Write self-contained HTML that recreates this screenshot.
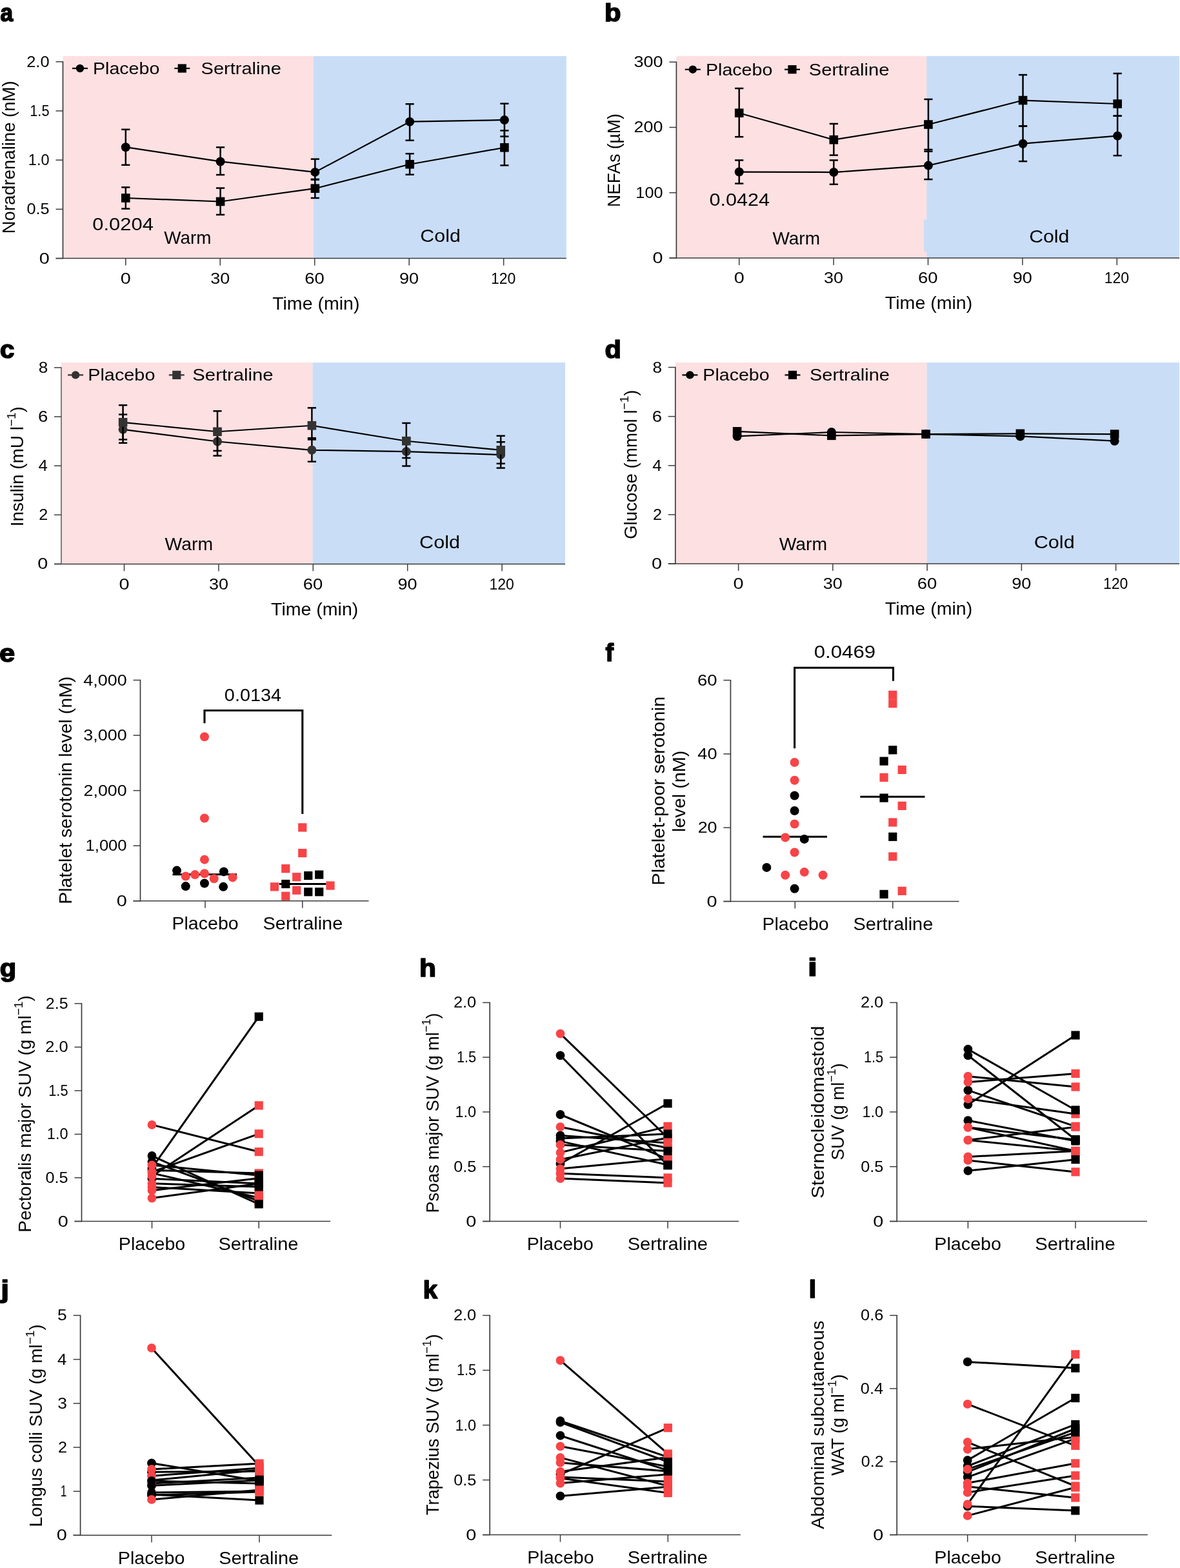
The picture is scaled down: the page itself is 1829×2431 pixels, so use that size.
<!DOCTYPE html>
<html><head><meta charset="utf-8"><title>Figure</title>
<style>
html,body{margin:0;padding:0;background:#fff;}
svg{display:block;}
text{font-family:'Liberation Sans', Arial, sans-serif;fill:#050505;}
</style></head>
<body>
<svg width="1829" height="2431" viewBox="0 0 1829 2431">
<rect width="1829" height="2431" fill="#fff"/>
<text x="0.42" y="32.55" font-size="38.5" textLength="19.61" lengthAdjust="spacingAndGlyphs" font-weight="bold" style="fill:#000" stroke="#000" stroke-width="1.7" stroke-linejoin="round">a</text>
<rect x="97.5" y="86.9" width="388.2" height="313.7" fill="#fde0e2"/>
<rect x="485.7" y="86.9" width="392.1" height="313.7" fill="#c9ddf7"/>
<line x1="86.5" y1="400.6" x2="877.8" y2="400.6" stroke="#3c3c3c" stroke-width="1.5"/>
<line x1="97.5" y1="95" x2="97.5" y2="401.3" stroke="#3c3c3c" stroke-width="1.7"/>
<line x1="86.5" y1="400.6" x2="97.5" y2="400.6" stroke="#3c3c3c" stroke-width="1.5"/>
<text x="60.67" y="408.6" font-size="24" textLength="16.06" lengthAdjust="spacingAndGlyphs">0</text>
<line x1="86.5" y1="324.38" x2="97.5" y2="324.38" stroke="#3c3c3c" stroke-width="1.5"/>
<text x="41.51" y="332.38" font-size="24" textLength="35.15" lengthAdjust="spacingAndGlyphs">0.5</text>
<line x1="86.5" y1="248.15" x2="97.5" y2="248.15" stroke="#3c3c3c" stroke-width="1.5"/>
<text x="43.81" y="256.15" font-size="24" textLength="32.71" lengthAdjust="spacingAndGlyphs">1.0</text>
<line x1="86.5" y1="171.93" x2="97.5" y2="171.93" stroke="#3c3c3c" stroke-width="1.5"/>
<text x="46.24" y="179.93" font-size="24" textLength="30.27" lengthAdjust="spacingAndGlyphs">1.5</text>
<line x1="86.5" y1="95.7" x2="97.5" y2="95.7" stroke="#3c3c3c" stroke-width="1.5"/>
<text x="41.22" y="103.7" font-size="24" textLength="35.37" lengthAdjust="spacingAndGlyphs">2.0</text>
<line x1="194.8" y1="400.6" x2="194.8" y2="411.6" stroke="#3c3c3c" stroke-width="1.5"/>
<text x="186.77" y="439.9" font-size="24" textLength="16.06" lengthAdjust="spacingAndGlyphs">0</text>
<line x1="341.26" y1="400.6" x2="341.26" y2="411.6" stroke="#3c3c3c" stroke-width="1.5"/>
<text x="326.28" y="439.9" font-size="24" textLength="29.98" lengthAdjust="spacingAndGlyphs">30</text>
<line x1="487.72" y1="400.6" x2="487.72" y2="411.6" stroke="#3c3c3c" stroke-width="1.5"/>
<text x="472.27" y="439.9" font-size="24" textLength="30.57" lengthAdjust="spacingAndGlyphs">60</text>
<line x1="634.18" y1="400.6" x2="634.18" y2="411.6" stroke="#3c3c3c" stroke-width="1.5"/>
<text x="619.01" y="439.9" font-size="24" textLength="30.13" lengthAdjust="spacingAndGlyphs">90</text>
<line x1="780.64" y1="400.6" x2="780.64" y2="411.6" stroke="#3c3c3c" stroke-width="1.5"/>
<text x="760.98" y="439.9" font-size="24" textLength="38.46" lengthAdjust="spacingAndGlyphs">120</text>
<text x="422.16" y="479.9" font-size="27.3" textLength="135.29" lengthAdjust="spacingAndGlyphs">Time (min)</text>
<text x="254.18" y="378.3" font-size="28" textLength="73.23" lengthAdjust="spacingAndGlyphs">Warm</text>
<text x="651.36" y="375" font-size="28" textLength="62.4" lengthAdjust="spacingAndGlyphs">Cold</text>
<path d="M194.8 228.18 L341.58 250.44 L488.35 266.9 L635.12 188.69 L781.9 185.95" fill="none" stroke="#000" stroke-width="2.2" stroke-linejoin="round"/>
<line x1="194.8" y1="200.74" x2="194.8" y2="255.77" stroke="#000" stroke-width="2.5"/>
<line x1="188.2" y1="200.74" x2="201.4" y2="200.74" stroke="#000" stroke-width="2.5"/>
<line x1="188.2" y1="255.77" x2="201.4" y2="255.77" stroke="#000" stroke-width="2.5"/>
<line x1="341.58" y1="228.33" x2="341.58" y2="271.02" stroke="#000" stroke-width="2.5"/>
<line x1="334.98" y1="228.33" x2="348.18" y2="228.33" stroke="#000" stroke-width="2.5"/>
<line x1="334.98" y1="271.02" x2="348.18" y2="271.02" stroke="#000" stroke-width="2.5"/>
<line x1="488.35" y1="246.63" x2="488.35" y2="278.64" stroke="#000" stroke-width="2.5"/>
<line x1="481.75" y1="246.63" x2="494.95" y2="246.63" stroke="#000" stroke-width="2.5"/>
<line x1="481.75" y1="278.64" x2="494.95" y2="278.64" stroke="#000" stroke-width="2.5"/>
<line x1="635.12" y1="161.25" x2="635.12" y2="217.66" stroke="#000" stroke-width="2.5"/>
<line x1="628.52" y1="161.25" x2="641.73" y2="161.25" stroke="#000" stroke-width="2.5"/>
<line x1="628.52" y1="217.66" x2="641.73" y2="217.66" stroke="#000" stroke-width="2.5"/>
<line x1="781.9" y1="160.64" x2="781.9" y2="211.56" stroke="#000" stroke-width="2.5"/>
<line x1="775.3" y1="160.64" x2="788.5" y2="160.64" stroke="#000" stroke-width="2.5"/>
<line x1="775.3" y1="211.56" x2="788.5" y2="211.56" stroke="#000" stroke-width="2.5"/>
<circle cx="194.8" cy="228.18" r="7" fill="#000"/>
<circle cx="341.58" cy="250.44" r="7" fill="#000"/>
<circle cx="488.35" cy="266.9" r="7" fill="#000"/>
<circle cx="635.12" cy="188.69" r="7" fill="#000"/>
<circle cx="781.9" cy="185.95" r="7" fill="#000"/>
<path d="M194.8 307 L341.58 312.48 L488.35 292.21 L635.12 254.71 L781.9 228.79" fill="none" stroke="#000" stroke-width="2.2" stroke-linejoin="round"/>
<line x1="194.8" y1="290.38" x2="194.8" y2="323.61" stroke="#000" stroke-width="2.5"/>
<line x1="188.2" y1="290.38" x2="201.4" y2="290.38" stroke="#000" stroke-width="2.5"/>
<line x1="188.2" y1="323.61" x2="201.4" y2="323.61" stroke="#000" stroke-width="2.5"/>
<line x1="341.58" y1="291.6" x2="341.58" y2="332.91" stroke="#000" stroke-width="2.5"/>
<line x1="334.98" y1="291.6" x2="348.18" y2="291.6" stroke="#000" stroke-width="2.5"/>
<line x1="334.98" y1="332.91" x2="348.18" y2="332.91" stroke="#000" stroke-width="2.5"/>
<line x1="488.35" y1="277.88" x2="488.35" y2="307" stroke="#000" stroke-width="2.5"/>
<line x1="481.75" y1="277.88" x2="494.95" y2="277.88" stroke="#000" stroke-width="2.5"/>
<line x1="481.75" y1="307" x2="494.95" y2="307" stroke="#000" stroke-width="2.5"/>
<line x1="635.12" y1="238.24" x2="635.12" y2="270.71" stroke="#000" stroke-width="2.5"/>
<line x1="628.52" y1="238.24" x2="641.73" y2="238.24" stroke="#000" stroke-width="2.5"/>
<line x1="628.52" y1="270.71" x2="641.73" y2="270.71" stroke="#000" stroke-width="2.5"/>
<line x1="781.9" y1="202.42" x2="781.9" y2="256.38" stroke="#000" stroke-width="2.5"/>
<line x1="775.3" y1="202.42" x2="788.5" y2="202.42" stroke="#000" stroke-width="2.5"/>
<line x1="775.3" y1="256.38" x2="788.5" y2="256.38" stroke="#000" stroke-width="2.5"/>
<rect x="188" y="300.2" width="13.6" height="13.6" fill="#000"/>
<rect x="334.78" y="305.68" width="13.6" height="13.6" fill="#000"/>
<rect x="481.55" y="285.41" width="13.6" height="13.6" fill="#000"/>
<rect x="628.33" y="247.91" width="13.6" height="13.6" fill="#000"/>
<rect x="775.1" y="221.99" width="13.6" height="13.6" fill="#000"/>
<line x1="112" y1="106" x2="136" y2="106" stroke="#000" stroke-width="2.2"/>
<circle cx="124" cy="106" r="6.2" fill="#000"/>
<text x="143.95" y="114.9" font-size="26.6" textLength="103.45" lengthAdjust="spacingAndGlyphs">Placebo</text>
<line x1="270.3" y1="106" x2="294.3" y2="106" stroke="#000" stroke-width="2.2"/>
<rect x="275.7" y="99.4" width="13.2" height="13.2" fill="#000"/>
<text x="311.58" y="114.9" font-size="26.6" textLength="124.21" lengthAdjust="spacingAndGlyphs">Sertraline</text>
<text x="143.29" y="356.8" font-size="28" textLength="94.61" lengthAdjust="spacingAndGlyphs">0.0204</text>
<text transform="translate(23.3 362.26) rotate(-90)" font-size="28" textLength="236.86" lengthAdjust="spacingAndGlyphs">Noradrenaline (nM)</text>
<text x="937.1" y="32.65" font-size="38.5" textLength="25.46" lengthAdjust="spacingAndGlyphs" font-weight="bold" style="fill:#000" stroke="#000" stroke-width="1.7" stroke-linejoin="round">b</text>
<rect x="1048.4" y="86.8" width="387.8" height="313.2" fill="#fde0e2"/>
<rect x="1436.2" y="86.8" width="391.8" height="313.2" fill="#c9ddf7"/>
<rect x="1431.9" y="340.5" width="5" height="49.3" fill="#c9ddf7"/>
<line x1="1037.4" y1="400" x2="1828" y2="400" stroke="#3c3c3c" stroke-width="1.5"/>
<line x1="1048.4" y1="95.5" x2="1048.4" y2="400.7" stroke="#3c3c3c" stroke-width="1.7"/>
<line x1="1037.4" y1="400" x2="1048.4" y2="400" stroke="#3c3c3c" stroke-width="1.5"/>
<text x="1011.57" y="408" font-size="24" textLength="16.06" lengthAdjust="spacingAndGlyphs">0</text>
<line x1="1037.4" y1="298.73" x2="1048.4" y2="298.73" stroke="#3c3c3c" stroke-width="1.5"/>
<text x="985.38" y="306.73" font-size="24" textLength="42.11" lengthAdjust="spacingAndGlyphs">100</text>
<line x1="1037.4" y1="197.47" x2="1048.4" y2="197.47" stroke="#3c3c3c" stroke-width="1.5"/>
<text x="982.54" y="205.47" font-size="24" textLength="45.01" lengthAdjust="spacingAndGlyphs">200</text>
<line x1="1037.4" y1="96.2" x2="1048.4" y2="96.2" stroke="#3c3c3c" stroke-width="1.5"/>
<text x="982.47" y="104.2" font-size="24" textLength="45.08" lengthAdjust="spacingAndGlyphs">300</text>
<line x1="1145.7" y1="400" x2="1145.7" y2="411" stroke="#3c3c3c" stroke-width="1.5"/>
<text x="1137.67" y="439.3" font-size="24" textLength="16.06" lengthAdjust="spacingAndGlyphs">0</text>
<line x1="1292.1" y1="400" x2="1292.1" y2="411" stroke="#3c3c3c" stroke-width="1.5"/>
<text x="1277.12" y="439.3" font-size="24" textLength="29.98" lengthAdjust="spacingAndGlyphs">30</text>
<line x1="1438.5" y1="400" x2="1438.5" y2="411" stroke="#3c3c3c" stroke-width="1.5"/>
<text x="1423.05" y="439.3" font-size="24" textLength="30.57" lengthAdjust="spacingAndGlyphs">60</text>
<line x1="1584.9" y1="400" x2="1584.9" y2="411" stroke="#3c3c3c" stroke-width="1.5"/>
<text x="1569.73" y="439.3" font-size="24" textLength="30.13" lengthAdjust="spacingAndGlyphs">90</text>
<line x1="1731.3" y1="400" x2="1731.3" y2="411" stroke="#3c3c3c" stroke-width="1.5"/>
<text x="1711.64" y="439.3" font-size="24" textLength="38.46" lengthAdjust="spacingAndGlyphs">120</text>
<text x="1371.86" y="479.3" font-size="27.3" textLength="135.39" lengthAdjust="spacingAndGlyphs">Time (min)</text>
<text x="1197.38" y="378.7" font-size="28" textLength="73.64" lengthAdjust="spacingAndGlyphs">Warm</text>
<text x="1595.16" y="375.8" font-size="28" textLength="62.29" lengthAdjust="spacingAndGlyphs">Cold</text>
<path d="M1145.7 266.53 L1292.31 267.04 L1438.92 256.61 L1585.53 222.68 L1732.14 210.63" fill="none" stroke="#000" stroke-width="2.2" stroke-linejoin="round"/>
<line x1="1145.7" y1="248.4" x2="1145.7" y2="284.56" stroke="#000" stroke-width="2.5"/>
<line x1="1139.1" y1="248.4" x2="1152.3" y2="248.4" stroke="#000" stroke-width="2.5"/>
<line x1="1139.1" y1="284.56" x2="1152.3" y2="284.56" stroke="#000" stroke-width="2.5"/>
<line x1="1292.31" y1="248.4" x2="1292.31" y2="285.77" stroke="#000" stroke-width="2.5"/>
<line x1="1285.71" y1="248.4" x2="1298.91" y2="248.4" stroke="#000" stroke-width="2.5"/>
<line x1="1285.71" y1="285.77" x2="1298.91" y2="285.77" stroke="#000" stroke-width="2.5"/>
<line x1="1438.92" y1="231.9" x2="1438.92" y2="278.07" stroke="#000" stroke-width="2.5"/>
<line x1="1432.32" y1="231.9" x2="1445.52" y2="231.9" stroke="#000" stroke-width="2.5"/>
<line x1="1432.32" y1="278.07" x2="1445.52" y2="278.07" stroke="#000" stroke-width="2.5"/>
<line x1="1585.53" y1="195.64" x2="1585.53" y2="250.12" stroke="#000" stroke-width="2.5"/>
<line x1="1578.93" y1="195.64" x2="1592.13" y2="195.64" stroke="#000" stroke-width="2.5"/>
<line x1="1578.93" y1="250.12" x2="1592.13" y2="250.12" stroke="#000" stroke-width="2.5"/>
<line x1="1732.14" y1="179.74" x2="1732.14" y2="241.21" stroke="#000" stroke-width="2.5"/>
<line x1="1725.54" y1="179.74" x2="1738.74" y2="179.74" stroke="#000" stroke-width="2.5"/>
<line x1="1725.54" y1="241.21" x2="1738.74" y2="241.21" stroke="#000" stroke-width="2.5"/>
<circle cx="1145.7" cy="266.53" r="7" fill="#000"/>
<circle cx="1292.31" cy="267.04" r="7" fill="#000"/>
<circle cx="1438.92" cy="256.61" r="7" fill="#000"/>
<circle cx="1585.53" cy="222.68" r="7" fill="#000"/>
<circle cx="1732.14" cy="210.63" r="7" fill="#000"/>
<path d="M1145.7 175.19 L1292.31 216.71 L1438.92 193.01 L1585.53 155.54 L1732.14 161.01" fill="none" stroke="#000" stroke-width="2.2" stroke-linejoin="round"/>
<line x1="1145.7" y1="137.01" x2="1145.7" y2="212.15" stroke="#000" stroke-width="2.5"/>
<line x1="1139.1" y1="137.01" x2="1152.3" y2="137.01" stroke="#000" stroke-width="2.5"/>
<line x1="1139.1" y1="212.15" x2="1152.3" y2="212.15" stroke="#000" stroke-width="2.5"/>
<line x1="1292.31" y1="191.9" x2="1292.31" y2="240.61" stroke="#000" stroke-width="2.5"/>
<line x1="1285.71" y1="191.9" x2="1298.91" y2="191.9" stroke="#000" stroke-width="2.5"/>
<line x1="1285.71" y1="240.61" x2="1298.91" y2="240.61" stroke="#000" stroke-width="2.5"/>
<line x1="1438.92" y1="153.92" x2="1438.92" y2="234.73" stroke="#000" stroke-width="2.5"/>
<line x1="1432.32" y1="153.92" x2="1445.52" y2="153.92" stroke="#000" stroke-width="2.5"/>
<line x1="1432.32" y1="234.73" x2="1445.52" y2="234.73" stroke="#000" stroke-width="2.5"/>
<line x1="1585.53" y1="116.05" x2="1585.53" y2="195.44" stroke="#000" stroke-width="2.5"/>
<line x1="1578.93" y1="116.05" x2="1592.13" y2="116.05" stroke="#000" stroke-width="2.5"/>
<line x1="1578.93" y1="195.44" x2="1592.13" y2="195.44" stroke="#000" stroke-width="2.5"/>
<line x1="1732.14" y1="113.92" x2="1732.14" y2="179.74" stroke="#000" stroke-width="2.5"/>
<line x1="1725.54" y1="113.92" x2="1738.74" y2="113.92" stroke="#000" stroke-width="2.5"/>
<line x1="1725.54" y1="179.74" x2="1738.74" y2="179.74" stroke="#000" stroke-width="2.5"/>
<rect x="1138.9" y="168.39" width="13.6" height="13.6" fill="#000"/>
<rect x="1285.51" y="209.91" width="13.6" height="13.6" fill="#000"/>
<rect x="1432.12" y="186.21" width="13.6" height="13.6" fill="#000"/>
<rect x="1578.73" y="148.74" width="13.6" height="13.6" fill="#000"/>
<rect x="1725.34" y="154.21" width="13.6" height="13.6" fill="#000"/>
<line x1="1061.8" y1="107.7" x2="1085.8" y2="107.7" stroke="#000" stroke-width="2.2"/>
<circle cx="1073.8" cy="107.7" r="6.2" fill="#000"/>
<text x="1093.95" y="116.6" font-size="26.6" textLength="103.45" lengthAdjust="spacingAndGlyphs">Placebo</text>
<line x1="1216" y1="107.7" x2="1240" y2="107.7" stroke="#000" stroke-width="2.2"/>
<rect x="1221.4" y="101.1" width="13.2" height="13.2" fill="#000"/>
<text x="1253.78" y="116.6" font-size="26.6" textLength="124.62" lengthAdjust="spacingAndGlyphs">Sertraline</text>
<text x="1099.61" y="319.3" font-size="28" textLength="93.39" lengthAdjust="spacingAndGlyphs">0.0424</text>
<text transform="translate(960.9 320.95) rotate(-90)" font-size="28" textLength="144.68" lengthAdjust="spacingAndGlyphs">NEFAs (µM)</text>
<text x="-0.02" y="554.85" font-size="38.5" textLength="22.35" lengthAdjust="spacingAndGlyphs" font-weight="bold" style="fill:#000" stroke="#000" stroke-width="1.7" stroke-linejoin="round">c</text>
<rect x="95" y="562.1" width="389.5" height="312.3" fill="#fde0e2"/>
<rect x="484.5" y="562.1" width="391.5" height="312.3" fill="#c9ddf7"/>
<line x1="84" y1="874.4" x2="876" y2="874.4" stroke="#3c3c3c" stroke-width="1.5"/>
<line x1="95" y1="569.22" x2="95" y2="875.1" stroke="#6e6868" stroke-width="1.7"/>
<line x1="84" y1="874.4" x2="95" y2="874.4" stroke="#3c3c3c" stroke-width="1.5"/>
<text x="58.17" y="882.4" font-size="24" textLength="16.06" lengthAdjust="spacingAndGlyphs">0</text>
<line x1="84" y1="798.28" x2="95" y2="798.28" stroke="#3c3c3c" stroke-width="1.5"/>
<text x="60.33" y="806.28" font-size="24" textLength="14.04" lengthAdjust="spacingAndGlyphs">2</text>
<line x1="84" y1="722.16" x2="95" y2="722.16" stroke="#3c3c3c" stroke-width="1.5"/>
<text x="59.51" y="730.16" font-size="24" textLength="14.35" lengthAdjust="spacingAndGlyphs">4</text>
<line x1="84" y1="646.04" x2="95" y2="646.04" stroke="#3c3c3c" stroke-width="1.5"/>
<text x="59" y="654.04" font-size="24" textLength="15.31" lengthAdjust="spacingAndGlyphs">6</text>
<line x1="84" y1="569.92" x2="95" y2="569.92" stroke="#3c3c3c" stroke-width="1.5"/>
<text x="59.66" y="577.92" font-size="24" textLength="14.58" lengthAdjust="spacingAndGlyphs">8</text>
<line x1="192.5" y1="874.4" x2="192.5" y2="885.4" stroke="#3c3c3c" stroke-width="1.5"/>
<text x="184.47" y="913.7" font-size="24" textLength="16.06" lengthAdjust="spacingAndGlyphs">0</text>
<line x1="338.9" y1="874.4" x2="338.9" y2="885.4" stroke="#3c3c3c" stroke-width="1.5"/>
<text x="323.92" y="913.7" font-size="24" textLength="29.98" lengthAdjust="spacingAndGlyphs">30</text>
<line x1="485.3" y1="874.4" x2="485.3" y2="885.4" stroke="#3c3c3c" stroke-width="1.5"/>
<text x="469.85" y="913.7" font-size="24" textLength="30.57" lengthAdjust="spacingAndGlyphs">60</text>
<line x1="631.7" y1="874.4" x2="631.7" y2="885.4" stroke="#3c3c3c" stroke-width="1.5"/>
<text x="616.53" y="913.7" font-size="24" textLength="30.13" lengthAdjust="spacingAndGlyphs">90</text>
<line x1="778.1" y1="874.4" x2="778.1" y2="885.4" stroke="#3c3c3c" stroke-width="1.5"/>
<text x="758.44" y="913.7" font-size="24" textLength="38.46" lengthAdjust="spacingAndGlyphs">120</text>
<text x="420.06" y="953.7" font-size="27.3" textLength="135.29" lengthAdjust="spacingAndGlyphs">Time (min)</text>
<text x="255.58" y="853" font-size="28" textLength="74.57" lengthAdjust="spacingAndGlyphs">Warm</text>
<text x="650.05" y="850" font-size="28" textLength="62.93" lengthAdjust="spacingAndGlyphs">Cold</text>
<path d="M190.6 665.83 L337 684.48 L483.4 697.8 L629.8 700.09 L776.2 705.03" fill="none" stroke="#000" stroke-width="2.2" stroke-linejoin="round"/>
<line x1="190.6" y1="642.61" x2="190.6" y2="686.76" stroke="#000" stroke-width="2.5"/>
<line x1="184" y1="642.61" x2="197.2" y2="642.61" stroke="#000" stroke-width="2.5"/>
<line x1="184" y1="686.76" x2="197.2" y2="686.76" stroke="#000" stroke-width="2.5"/>
<line x1="337" y1="665.07" x2="337" y2="706.56" stroke="#000" stroke-width="2.5"/>
<line x1="330.4" y1="665.07" x2="343.6" y2="665.07" stroke="#000" stroke-width="2.5"/>
<line x1="330.4" y1="706.56" x2="343.6" y2="706.56" stroke="#000" stroke-width="2.5"/>
<line x1="483.4" y1="679.15" x2="483.4" y2="715.69" stroke="#000" stroke-width="2.5"/>
<line x1="476.8" y1="679.15" x2="490" y2="679.15" stroke="#000" stroke-width="2.5"/>
<line x1="476.8" y1="715.69" x2="490" y2="715.69" stroke="#000" stroke-width="2.5"/>
<line x1="629.8" y1="680.29" x2="629.8" y2="722.54" stroke="#000" stroke-width="2.5"/>
<line x1="623.2" y1="680.29" x2="636.4" y2="680.29" stroke="#000" stroke-width="2.5"/>
<line x1="623.2" y1="722.54" x2="636.4" y2="722.54" stroke="#000" stroke-width="2.5"/>
<line x1="776.2" y1="685.24" x2="776.2" y2="725.59" stroke="#000" stroke-width="2.5"/>
<line x1="769.6" y1="685.24" x2="782.8" y2="685.24" stroke="#000" stroke-width="2.5"/>
<line x1="769.6" y1="725.59" x2="782.8" y2="725.59" stroke="#000" stroke-width="2.5"/>
<circle cx="190.6" cy="665.83" r="7" fill="#333"/>
<circle cx="337" cy="684.48" r="7" fill="#333"/>
<circle cx="483.4" cy="697.8" r="7" fill="#333"/>
<circle cx="629.8" cy="700.09" r="7" fill="#333"/>
<circle cx="776.2" cy="705.03" r="7" fill="#333"/>
<path d="M190.6 654.79 L337 669.26 L483.4 659.74 L629.8 683.72 L776.2 697.8" fill="none" stroke="#000" stroke-width="2.2" stroke-linejoin="round"/>
<line x1="190.6" y1="628.15" x2="190.6" y2="681.44" stroke="#000" stroke-width="2.5"/>
<line x1="184" y1="628.15" x2="197.2" y2="628.15" stroke="#000" stroke-width="2.5"/>
<line x1="184" y1="681.44" x2="197.2" y2="681.44" stroke="#000" stroke-width="2.5"/>
<line x1="337" y1="637.29" x2="337" y2="698.94" stroke="#000" stroke-width="2.5"/>
<line x1="330.4" y1="637.29" x2="343.6" y2="637.29" stroke="#000" stroke-width="2.5"/>
<line x1="330.4" y1="698.94" x2="343.6" y2="698.94" stroke="#000" stroke-width="2.5"/>
<line x1="483.4" y1="632.34" x2="483.4" y2="681.44" stroke="#000" stroke-width="2.5"/>
<line x1="476.8" y1="632.34" x2="490" y2="632.34" stroke="#000" stroke-width="2.5"/>
<line x1="476.8" y1="681.44" x2="490" y2="681.44" stroke="#000" stroke-width="2.5"/>
<line x1="629.8" y1="655.94" x2="629.8" y2="709.98" stroke="#000" stroke-width="2.5"/>
<line x1="623.2" y1="655.94" x2="636.4" y2="655.94" stroke="#000" stroke-width="2.5"/>
<line x1="623.2" y1="709.98" x2="636.4" y2="709.98" stroke="#000" stroke-width="2.5"/>
<line x1="776.2" y1="675.73" x2="776.2" y2="718.73" stroke="#000" stroke-width="2.5"/>
<line x1="769.6" y1="675.73" x2="782.8" y2="675.73" stroke="#000" stroke-width="2.5"/>
<line x1="769.6" y1="718.73" x2="782.8" y2="718.73" stroke="#000" stroke-width="2.5"/>
<rect x="183.8" y="647.99" width="13.6" height="13.6" fill="#333"/>
<rect x="330.2" y="662.46" width="13.6" height="13.6" fill="#333"/>
<rect x="476.6" y="652.94" width="13.6" height="13.6" fill="#333"/>
<rect x="623" y="676.92" width="13.6" height="13.6" fill="#333"/>
<rect x="769.4" y="691" width="13.6" height="13.6" fill="#333"/>
<line x1="105.1" y1="581.4" x2="129.1" y2="581.4" stroke="#333" stroke-width="2.2"/>
<circle cx="117.1" cy="581.4" r="6.2" fill="#333"/>
<text x="136.24" y="590.3" font-size="26.6" textLength="104.18" lengthAdjust="spacingAndGlyphs">Placebo</text>
<line x1="261.8" y1="581.4" x2="285.8" y2="581.4" stroke="#333" stroke-width="2.2"/>
<rect x="267.2" y="574.8" width="13.2" height="13.2" fill="#333"/>
<text x="298.37" y="590.3" font-size="26.6" textLength="125.23" lengthAdjust="spacingAndGlyphs">Sertraline</text>
<text transform="translate(35.9 816.28) rotate(-90)" font-size="28" textLength="186.11" lengthAdjust="spacingAndGlyphs">Insulin (mU l<tspan font-size="19" dy="-12.4">−1</tspan><tspan font-size="28" dy="12.4">)</tspan></text>
<text x="937.45" y="554.85" font-size="38.5" textLength="25.34" lengthAdjust="spacingAndGlyphs" font-weight="bold" style="fill:#000" stroke="#000" stroke-width="1.7" stroke-linejoin="round">d</text>
<rect x="1046.8" y="562.1" width="389.7" height="311.9" fill="#fde0e2"/>
<rect x="1436.5" y="562.1" width="391.5" height="311.9" fill="#c9ddf7"/>
<line x1="1035.8" y1="874" x2="1828" y2="874" stroke="#3c3c3c" stroke-width="1.5"/>
<line x1="1046.8" y1="568.82" x2="1046.8" y2="874.7" stroke="#3c3c3c" stroke-width="1.7"/>
<line x1="1035.8" y1="874" x2="1046.8" y2="874" stroke="#3c3c3c" stroke-width="1.5"/>
<text x="1009.97" y="882" font-size="24" textLength="16.06" lengthAdjust="spacingAndGlyphs">0</text>
<line x1="1035.8" y1="797.88" x2="1046.8" y2="797.88" stroke="#3c3c3c" stroke-width="1.5"/>
<text x="1012.13" y="805.88" font-size="24" textLength="14.04" lengthAdjust="spacingAndGlyphs">2</text>
<line x1="1035.8" y1="721.76" x2="1046.8" y2="721.76" stroke="#3c3c3c" stroke-width="1.5"/>
<text x="1011.31" y="729.76" font-size="24" textLength="14.35" lengthAdjust="spacingAndGlyphs">4</text>
<line x1="1035.8" y1="645.64" x2="1046.8" y2="645.64" stroke="#3c3c3c" stroke-width="1.5"/>
<text x="1010.8" y="653.64" font-size="24" textLength="15.31" lengthAdjust="spacingAndGlyphs">6</text>
<line x1="1035.8" y1="569.52" x2="1046.8" y2="569.52" stroke="#3c3c3c" stroke-width="1.5"/>
<text x="1011.46" y="577.52" font-size="24" textLength="14.58" lengthAdjust="spacingAndGlyphs">8</text>
<line x1="1144.6" y1="874" x2="1144.6" y2="885" stroke="#3c3c3c" stroke-width="1.5"/>
<text x="1136.57" y="913.3" font-size="24" textLength="16.06" lengthAdjust="spacingAndGlyphs">0</text>
<line x1="1290.85" y1="874" x2="1290.85" y2="885" stroke="#3c3c3c" stroke-width="1.5"/>
<text x="1275.87" y="913.3" font-size="24" textLength="29.98" lengthAdjust="spacingAndGlyphs">30</text>
<line x1="1437.1" y1="874" x2="1437.1" y2="885" stroke="#3c3c3c" stroke-width="1.5"/>
<text x="1421.65" y="913.3" font-size="24" textLength="30.57" lengthAdjust="spacingAndGlyphs">60</text>
<line x1="1583.35" y1="874" x2="1583.35" y2="885" stroke="#3c3c3c" stroke-width="1.5"/>
<text x="1568.18" y="913.3" font-size="24" textLength="30.13" lengthAdjust="spacingAndGlyphs">90</text>
<line x1="1729.6" y1="874" x2="1729.6" y2="885" stroke="#3c3c3c" stroke-width="1.5"/>
<text x="1709.94" y="913.3" font-size="24" textLength="38.46" lengthAdjust="spacingAndGlyphs">120</text>
<text x="1371.86" y="953.3" font-size="27.3" textLength="135.29" lengthAdjust="spacingAndGlyphs">Time (min)</text>
<text x="1207.68" y="853" font-size="28" textLength="74.46" lengthAdjust="spacingAndGlyphs">Warm</text>
<text x="1602.75" y="850" font-size="28" textLength="62.93" lengthAdjust="spacingAndGlyphs">Cold</text>
<path d="M1142.6 676.47 L1288.85 670 L1435.1 673.04 L1581.35 676.47 L1727.6 683.7" fill="none" stroke="#000" stroke-width="2.2" stroke-linejoin="round"/>
<circle cx="1142.6" cy="676.47" r="7" fill="#000"/>
<circle cx="1288.85" cy="670" r="7" fill="#000"/>
<circle cx="1435.1" cy="673.04" r="7" fill="#000"/>
<circle cx="1581.35" cy="676.47" r="7" fill="#000"/>
<circle cx="1727.6" cy="683.7" r="7" fill="#000"/>
<path d="M1142.6 668.86 L1288.85 675.33 L1435.1 673.04 L1581.35 672.28 L1727.6 673.04" fill="none" stroke="#000" stroke-width="2.2" stroke-linejoin="round"/>
<rect x="1135.8" y="662.06" width="13.6" height="13.6" fill="#000"/>
<rect x="1282.05" y="668.53" width="13.6" height="13.6" fill="#000"/>
<rect x="1428.3" y="666.24" width="13.6" height="13.6" fill="#000"/>
<rect x="1574.55" y="665.48" width="13.6" height="13.6" fill="#000"/>
<rect x="1720.8" y="666.24" width="13.6" height="13.6" fill="#000"/>
<line x1="1057.4" y1="581.4" x2="1081.4" y2="581.4" stroke="#000" stroke-width="2.2"/>
<circle cx="1069.4" cy="581.4" r="6.2" fill="#000"/>
<text x="1089.36" y="590.3" font-size="26.6" textLength="103.24" lengthAdjust="spacingAndGlyphs">Placebo</text>
<line x1="1216.5" y1="581.4" x2="1240.5" y2="581.4" stroke="#000" stroke-width="2.2"/>
<rect x="1221.9" y="574.8" width="13.2" height="13.2" fill="#000"/>
<text x="1254.98" y="590.3" font-size="26.6" textLength="124" lengthAdjust="spacingAndGlyphs">Sertraline</text>
<text transform="translate(986.8 836) rotate(-90)" font-size="28" textLength="231.42" lengthAdjust="spacingAndGlyphs">Glucose (mmol l<tspan font-size="19" dy="-12.4">−1</tspan><tspan font-size="28" dy="12.4">)</tspan></text>
<text x="-0.82" y="1025.65" font-size="38.5" textLength="23.84" lengthAdjust="spacingAndGlyphs" font-weight="bold" style="fill:#000" stroke="#000" stroke-width="1.7" stroke-linejoin="round">e</text>
<line x1="206.5" y1="1396.8" x2="571.5" y2="1396.8" stroke="#3c3c3c" stroke-width="1.5"/>
<line x1="318" y1="1396.8" x2="318" y2="1407.8" stroke="#3c3c3c" stroke-width="1.5"/>
<line x1="468.8" y1="1396.8" x2="468.8" y2="1407.8" stroke="#3c3c3c" stroke-width="1.5"/>
<text x="266.41" y="1441.2" font-size="28" textLength="103.3" lengthAdjust="spacingAndGlyphs">Placebo</text>
<text x="407.59" y="1441.2" font-size="28" textLength="123.7" lengthAdjust="spacingAndGlyphs">Sertraline</text>
<line x1="217.5" y1="1053.8" x2="217.5" y2="1397.5" stroke="#3c3c3c" stroke-width="1.7"/>
<line x1="206.5" y1="1396.8" x2="217.5" y2="1396.8" stroke="#3c3c3c" stroke-width="1.5"/>
<text x="180.67" y="1404.8" font-size="24" textLength="16.06" lengthAdjust="spacingAndGlyphs">0</text>
<line x1="206.5" y1="1311.22" x2="217.5" y2="1311.22" stroke="#3c3c3c" stroke-width="1.5"/>
<text x="132.55" y="1319.22" font-size="24" textLength="64.05" lengthAdjust="spacingAndGlyphs">1,000</text>
<line x1="206.5" y1="1225.65" x2="217.5" y2="1225.65" stroke="#3c3c3c" stroke-width="1.5"/>
<text x="129.55" y="1233.65" font-size="24" textLength="67.1" lengthAdjust="spacingAndGlyphs">2,000</text>
<line x1="206.5" y1="1140.07" x2="217.5" y2="1140.07" stroke="#3c3c3c" stroke-width="1.5"/>
<text x="129.38" y="1148.07" font-size="24" textLength="67.27" lengthAdjust="spacingAndGlyphs">3,000</text>
<line x1="206.5" y1="1054.5" x2="217.5" y2="1054.5" stroke="#3c3c3c" stroke-width="1.5"/>
<text x="129.28" y="1062.5" font-size="24" textLength="67.37" lengthAdjust="spacingAndGlyphs">4,000</text>
<path d="M317 1121.3 V1101.5 H468.8 V1262" fill="none" stroke="#000" stroke-width="3.1"/>
<text x="347.87" y="1087.1" font-size="28" textLength="88.17" lengthAdjust="spacingAndGlyphs">0.0134</text>
<line x1="267.5" y1="1355.7" x2="367" y2="1355.7" stroke="#000" stroke-width="3"/>
<line x1="432.7" y1="1370.5" x2="505.5" y2="1370.5" stroke="#000" stroke-width="3"/>
<circle cx="316.95" cy="1142.26" r="7" fill="#f74447"/>
<circle cx="316.95" cy="1268.47" r="7" fill="#f74447"/>
<circle cx="316.95" cy="1332.65" r="7" fill="#f74447"/>
<circle cx="274.04" cy="1349.6" r="7" fill="#000"/>
<circle cx="346.88" cy="1351.4" r="7" fill="#000"/>
<circle cx="287.74" cy="1358.61" r="7" fill="#f74447"/>
<circle cx="302.17" cy="1356.09" r="7" fill="#f74447"/>
<circle cx="316.95" cy="1354.28" r="7" fill="#f74447"/>
<circle cx="331.73" cy="1362.22" r="7" fill="#f74447"/>
<circle cx="360.58" cy="1360.41" r="7" fill="#f74447"/>
<circle cx="287.74" cy="1374.12" r="7" fill="#000"/>
<circle cx="316.95" cy="1369.43" r="7" fill="#000"/>
<circle cx="346.16" cy="1374.84" r="7" fill="#000"/>
<rect x="462.16" y="1276.29" width="13.2" height="13.2" fill="#f74447"/>
<rect x="462.16" y="1315.95" width="13.2" height="13.2" fill="#f74447"/>
<rect x="436.19" y="1340.11" width="13.2" height="13.2" fill="#f74447"/>
<rect x="453.14" y="1353.09" width="13.2" height="13.2" fill="#f74447"/>
<rect x="418.89" y="1368.24" width="13.2" height="13.2" fill="#f74447"/>
<rect x="453.14" y="1373.65" width="13.2" height="13.2" fill="#f74447"/>
<rect x="436.19" y="1382.66" width="13.2" height="13.2" fill="#f74447"/>
<rect x="505.43" y="1366.43" width="13.2" height="13.2" fill="#f74447"/>
<rect x="436.19" y="1363.91" width="13.2" height="13.2" fill="#000"/>
<rect x="471.17" y="1350.93" width="13.2" height="13.2" fill="#000"/>
<rect x="488.12" y="1349.49" width="13.2" height="13.2" fill="#000"/>
<rect x="471.17" y="1376.17" width="13.2" height="13.2" fill="#000"/>
<rect x="488.12" y="1376.17" width="13.2" height="13.2" fill="#000"/>
<text transform="translate(111.4 1401.84) rotate(-90)" font-size="28" textLength="353.2" lengthAdjust="spacingAndGlyphs">Platelet serotonin level (nM)</text>
<text x="938.61" y="1025.15" font-size="38.5" textLength="12.47" lengthAdjust="spacingAndGlyphs" font-weight="bold" style="fill:#000" stroke="#000" stroke-width="1.7" stroke-linejoin="round">f</text>
<line x1="1121.4" y1="1397.5" x2="1486.5" y2="1397.5" stroke="#3c3c3c" stroke-width="1.5"/>
<line x1="1232.3" y1="1397.5" x2="1232.3" y2="1408.5" stroke="#3c3c3c" stroke-width="1.5"/>
<line x1="1383.8" y1="1397.5" x2="1383.8" y2="1408.5" stroke="#3c3c3c" stroke-width="1.5"/>
<text x="1181.41" y="1441.9" font-size="28" textLength="103.3" lengthAdjust="spacingAndGlyphs">Placebo</text>
<text x="1322.59" y="1441.9" font-size="28" textLength="123.7" lengthAdjust="spacingAndGlyphs">Sertraline</text>
<line x1="1132.4" y1="1053.9" x2="1132.4" y2="1398.2" stroke="#3c3c3c" stroke-width="1.7"/>
<line x1="1121.4" y1="1397.5" x2="1132.4" y2="1397.5" stroke="#3c3c3c" stroke-width="1.5"/>
<text x="1095.57" y="1405.5" font-size="24" textLength="16.06" lengthAdjust="spacingAndGlyphs">0</text>
<line x1="1121.4" y1="1283.2" x2="1132.4" y2="1283.2" stroke="#3c3c3c" stroke-width="1.5"/>
<text x="1081.65" y="1291.2" font-size="24" textLength="29.9" lengthAdjust="spacingAndGlyphs">20</text>
<line x1="1121.4" y1="1168.9" x2="1132.4" y2="1168.9" stroke="#3c3c3c" stroke-width="1.5"/>
<text x="1081.38" y="1176.9" font-size="24" textLength="30.18" lengthAdjust="spacingAndGlyphs">40</text>
<line x1="1121.4" y1="1054.6" x2="1132.4" y2="1054.6" stroke="#3c3c3c" stroke-width="1.5"/>
<text x="1081" y="1062.6" font-size="24" textLength="30.57" lengthAdjust="spacingAndGlyphs">60</text>
<path d="M1231.6 1160.3 V1035.2 H1384.5 V1055.7" fill="none" stroke="#000" stroke-width="3.1"/>
<text x="1261.78" y="1020.3" font-size="28" textLength="95.29" lengthAdjust="spacingAndGlyphs">0.0469</text>
<line x1="1182.5" y1="1297.3" x2="1282" y2="1297.3" stroke="#000" stroke-width="3"/>
<line x1="1333.3" y1="1235.3" x2="1433.5" y2="1235.3" stroke="#000" stroke-width="3"/>
<circle cx="1231.59" cy="1181.93" r="7" fill="#f74447"/>
<circle cx="1231.59" cy="1209.69" r="7" fill="#f74447"/>
<circle cx="1231.59" cy="1277.48" r="7" fill="#f74447"/>
<circle cx="1217.17" cy="1298.39" r="7" fill="#f74447"/>
<circle cx="1231.59" cy="1321.47" r="7" fill="#f74447"/>
<circle cx="1217.17" cy="1356.81" r="7" fill="#f74447"/>
<circle cx="1246.73" cy="1352.12" r="7" fill="#f74447"/>
<circle cx="1275.58" cy="1356.81" r="7" fill="#f74447"/>
<circle cx="1231.59" cy="1233.49" r="7" fill="#000"/>
<circle cx="1231.59" cy="1256.93" r="7" fill="#000"/>
<circle cx="1246.73" cy="1300.92" r="7" fill="#000"/>
<circle cx="1188.32" cy="1344.91" r="7" fill="#000"/>
<circle cx="1231.59" cy="1377.72" r="7" fill="#000"/>
<rect x="1377.16" y="1070.76" width="13.2" height="13.2" fill="#f74447"/>
<rect x="1377.16" y="1084.1" width="13.2" height="13.2" fill="#f74447"/>
<rect x="1391.58" y="1186.86" width="13.2" height="13.2" fill="#f74447"/>
<rect x="1363.45" y="1198.76" width="13.2" height="13.2" fill="#f74447"/>
<rect x="1391.58" y="1242.75" width="13.2" height="13.2" fill="#f74447"/>
<rect x="1377.16" y="1268.36" width="13.2" height="13.2" fill="#f74447"/>
<rect x="1377.16" y="1321.36" width="13.2" height="13.2" fill="#f74447"/>
<rect x="1391.58" y="1374.73" width="13.2" height="13.2" fill="#f74447"/>
<rect x="1377.16" y="1156.21" width="13.2" height="13.2" fill="#000"/>
<rect x="1363.45" y="1173.52" width="13.2" height="13.2" fill="#000"/>
<rect x="1363.45" y="1230.49" width="13.2" height="13.2" fill="#000"/>
<rect x="1377.16" y="1290.71" width="13.2" height="13.2" fill="#000"/>
<rect x="1363.45" y="1379.78" width="13.2" height="13.2" fill="#000"/>
<text transform="translate(1030.3 1372.69) rotate(-90)" font-size="28" textLength="292.78" lengthAdjust="spacingAndGlyphs">Platelet-poor serotonin</text>
<text transform="translate(1061.7 1290.04) rotate(-90)" font-size="28" textLength="126.43" lengthAdjust="spacingAndGlyphs">level (nM)</text>
<text x="-0.15" y="1513.65" font-size="38.5" textLength="25.38" lengthAdjust="spacingAndGlyphs" font-weight="bold" style="fill:#000" stroke="#000" stroke-width="1.7" stroke-linejoin="round">g</text>
<line x1="115.5" y1="1893.5" x2="512.1" y2="1893.5" stroke="#3c3c3c" stroke-width="1.5"/>
<line x1="235.5" y1="1893.5" x2="235.5" y2="1904.5" stroke="#3c3c3c" stroke-width="1.5"/>
<line x1="401.2" y1="1893.5" x2="401.2" y2="1904.5" stroke="#3c3c3c" stroke-width="1.5"/>
<text x="183.85" y="1937.9" font-size="28" textLength="103.35" lengthAdjust="spacingAndGlyphs">Placebo</text>
<text x="338.48" y="1937.9" font-size="28" textLength="124" lengthAdjust="spacingAndGlyphs">Sertraline</text>
<line x1="126.5" y1="1555.2" x2="126.5" y2="1894.2" stroke="#3c3c3c" stroke-width="1.7"/>
<line x1="115.5" y1="1893.5" x2="126.5" y2="1893.5" stroke="#3c3c3c" stroke-width="1.5"/>
<text x="89.67" y="1901.5" font-size="24" textLength="16.06" lengthAdjust="spacingAndGlyphs">0</text>
<line x1="115.5" y1="1825.98" x2="126.5" y2="1825.98" stroke="#3c3c3c" stroke-width="1.5"/>
<text x="70.51" y="1833.98" font-size="24" textLength="35.15" lengthAdjust="spacingAndGlyphs">0.5</text>
<line x1="115.5" y1="1758.46" x2="126.5" y2="1758.46" stroke="#3c3c3c" stroke-width="1.5"/>
<text x="72.81" y="1766.46" font-size="24" textLength="32.71" lengthAdjust="spacingAndGlyphs">1.0</text>
<line x1="115.5" y1="1690.94" x2="126.5" y2="1690.94" stroke="#3c3c3c" stroke-width="1.5"/>
<text x="75.24" y="1698.94" font-size="24" textLength="30.27" lengthAdjust="spacingAndGlyphs">1.5</text>
<line x1="115.5" y1="1623.42" x2="126.5" y2="1623.42" stroke="#3c3c3c" stroke-width="1.5"/>
<text x="70.22" y="1631.42" font-size="24" textLength="35.37" lengthAdjust="spacingAndGlyphs">2.0</text>
<line x1="115.5" y1="1555.9" x2="126.5" y2="1555.9" stroke="#3c3c3c" stroke-width="1.5"/>
<text x="70.84" y="1563.9" font-size="24" textLength="34.81" lengthAdjust="spacingAndGlyphs">2.5</text>
<line x1="235.5" y1="1743.9" x2="401.2" y2="1785.7" stroke="#000" stroke-width="3"/>
<line x1="235.5" y1="1811" x2="401.2" y2="1576.2" stroke="#000" stroke-width="3"/>
<line x1="235.5" y1="1823.4" x2="401.2" y2="1713.9" stroke="#000" stroke-width="3"/>
<line x1="235.5" y1="1816.9" x2="401.2" y2="1757.8" stroke="#000" stroke-width="3"/>
<line x1="235.5" y1="1792" x2="401.2" y2="1866.8" stroke="#000" stroke-width="3"/>
<line x1="235.5" y1="1801.1" x2="401.2" y2="1862" stroke="#000" stroke-width="3"/>
<line x1="235.5" y1="1806.3" x2="401.2" y2="1822.2" stroke="#000" stroke-width="3"/>
<line x1="235.5" y1="1814.3" x2="401.2" y2="1819" stroke="#000" stroke-width="3"/>
<line x1="235.5" y1="1827.4" x2="401.2" y2="1835" stroke="#000" stroke-width="3"/>
<line x1="235.5" y1="1834.8" x2="401.2" y2="1840" stroke="#000" stroke-width="3"/>
<line x1="235.5" y1="1840.5" x2="401.2" y2="1850" stroke="#000" stroke-width="3"/>
<line x1="235.5" y1="1845.7" x2="401.2" y2="1826.8" stroke="#000" stroke-width="3"/>
<line x1="235.5" y1="1857.6" x2="401.2" y2="1835" stroke="#000" stroke-width="3"/>
<line x1="235.5" y1="1818.8" x2="401.2" y2="1857" stroke="#000" stroke-width="3"/>
<circle cx="235.5" cy="1811" r="6.9" fill="#000"/>
<circle cx="235.5" cy="1792" r="6.9" fill="#000"/>
<circle cx="235.5" cy="1801.1" r="6.9" fill="#000"/>
<circle cx="235.5" cy="1814.3" r="6.9" fill="#000"/>
<circle cx="235.5" cy="1827.4" r="6.9" fill="#000"/>
<circle cx="235.5" cy="1743.9" r="6.9" fill="#f74447"/>
<circle cx="235.5" cy="1823.4" r="6.9" fill="#f74447"/>
<circle cx="235.5" cy="1816.9" r="6.9" fill="#f74447"/>
<circle cx="235.5" cy="1806.3" r="6.9" fill="#f74447"/>
<circle cx="235.5" cy="1834.8" r="6.9" fill="#f74447"/>
<circle cx="235.5" cy="1840.5" r="6.9" fill="#f74447"/>
<circle cx="235.5" cy="1845.7" r="6.9" fill="#f74447"/>
<circle cx="235.5" cy="1857.6" r="6.9" fill="#f74447"/>
<circle cx="235.5" cy="1818.8" r="6.9" fill="#f74447"/>
<rect x="394.6" y="1779.1" width="13.2" height="13.2" fill="#f74447"/>
<rect x="394.6" y="1707.3" width="13.2" height="13.2" fill="#f74447"/>
<rect x="394.6" y="1751.2" width="13.2" height="13.2" fill="#f74447"/>
<rect x="394.6" y="1855.4" width="13.2" height="13.2" fill="#f74447"/>
<rect x="394.6" y="1812.4" width="13.2" height="13.2" fill="#f74447"/>
<rect x="394.6" y="1843.4" width="13.2" height="13.2" fill="#f74447"/>
<rect x="394.6" y="1820.2" width="13.2" height="13.2" fill="#f74447"/>
<rect x="394.6" y="1850.4" width="13.2" height="13.2" fill="#f74447"/>
<rect x="394.6" y="1569.6" width="13.2" height="13.2" fill="#000"/>
<rect x="394.6" y="1860.2" width="13.2" height="13.2" fill="#000"/>
<rect x="394.6" y="1815.6" width="13.2" height="13.2" fill="#000"/>
<rect x="394.6" y="1828.4" width="13.2" height="13.2" fill="#000"/>
<rect x="394.6" y="1833.4" width="13.2" height="13.2" fill="#000"/>
<rect x="394.6" y="1828.4" width="13.2" height="13.2" fill="#000"/>
<text transform="translate(47.8 1910.8) rotate(-90)" font-size="28" textLength="367.54" lengthAdjust="spacingAndGlyphs">Pectoralis major SUV (g ml<tspan font-size="19" dy="-12.4">−1</tspan><tspan font-size="28" dy="12.4">)</tspan></text>
<text x="650.09" y="1513.65" font-size="38.5" textLength="25.89" lengthAdjust="spacingAndGlyphs" font-weight="bold" style="fill:#000" stroke="#000" stroke-width="1.7" stroke-linejoin="round">h</text>
<line x1="748.2" y1="1893.5" x2="1145.2" y2="1893.5" stroke="#3c3c3c" stroke-width="1.5"/>
<line x1="868.5" y1="1893.5" x2="868.5" y2="1904.5" stroke="#3c3c3c" stroke-width="1.5"/>
<line x1="1035" y1="1893.5" x2="1035" y2="1904.5" stroke="#3c3c3c" stroke-width="1.5"/>
<text x="816.66" y="1937.9" font-size="28" textLength="103.24" lengthAdjust="spacingAndGlyphs">Placebo</text>
<text x="972.68" y="1937.9" font-size="28" textLength="124.31" lengthAdjust="spacingAndGlyphs">Sertraline</text>
<line x1="759.2" y1="1553.7" x2="759.2" y2="1894.2" stroke="#3c3c3c" stroke-width="1.7"/>
<line x1="748.2" y1="1893.5" x2="759.2" y2="1893.5" stroke="#3c3c3c" stroke-width="1.5"/>
<text x="722.37" y="1901.5" font-size="24" textLength="16.06" lengthAdjust="spacingAndGlyphs">0</text>
<line x1="748.2" y1="1808.72" x2="759.2" y2="1808.72" stroke="#3c3c3c" stroke-width="1.5"/>
<text x="703.21" y="1816.72" font-size="24" textLength="35.15" lengthAdjust="spacingAndGlyphs">0.5</text>
<line x1="748.2" y1="1723.95" x2="759.2" y2="1723.95" stroke="#3c3c3c" stroke-width="1.5"/>
<text x="705.51" y="1731.95" font-size="24" textLength="32.71" lengthAdjust="spacingAndGlyphs">1.0</text>
<line x1="748.2" y1="1639.17" x2="759.2" y2="1639.17" stroke="#3c3c3c" stroke-width="1.5"/>
<text x="707.94" y="1647.17" font-size="24" textLength="30.27" lengthAdjust="spacingAndGlyphs">1.5</text>
<line x1="748.2" y1="1554.4" x2="759.2" y2="1554.4" stroke="#3c3c3c" stroke-width="1.5"/>
<text x="702.92" y="1562.4" font-size="24" textLength="35.37" lengthAdjust="spacingAndGlyphs">2.0</text>
<line x1="868.5" y1="1602.6" x2="1035" y2="1764" stroke="#000" stroke-width="3"/>
<line x1="868.5" y1="1636.3" x2="1035" y2="1806.8" stroke="#000" stroke-width="3"/>
<line x1="868.5" y1="1728" x2="1035" y2="1797" stroke="#000" stroke-width="3"/>
<line x1="868.5" y1="1747.2" x2="1035" y2="1779.7" stroke="#000" stroke-width="3"/>
<line x1="868.5" y1="1760.4" x2="1035" y2="1772" stroke="#000" stroke-width="3"/>
<line x1="868.5" y1="1769.4" x2="1035" y2="1806" stroke="#000" stroke-width="3"/>
<line x1="868.5" y1="1774.9" x2="1035" y2="1784.5" stroke="#000" stroke-width="3"/>
<line x1="868.5" y1="1786.9" x2="1035" y2="1746.3" stroke="#000" stroke-width="3"/>
<line x1="868.5" y1="1797.7" x2="1035" y2="1764" stroke="#000" stroke-width="3"/>
<line x1="868.5" y1="1804.3" x2="1035" y2="1710.8" stroke="#000" stroke-width="3"/>
<line x1="868.5" y1="1812.1" x2="1035" y2="1796.5" stroke="#000" stroke-width="3"/>
<line x1="868.5" y1="1819.3" x2="1035" y2="1826" stroke="#000" stroke-width="3"/>
<line x1="868.5" y1="1827.1" x2="1035" y2="1834" stroke="#000" stroke-width="3"/>
<line x1="868.5" y1="1765" x2="1035" y2="1758" stroke="#000" stroke-width="3"/>
<circle cx="868.5" cy="1636.3" r="6.9" fill="#000"/>
<circle cx="868.5" cy="1728" r="6.9" fill="#000"/>
<circle cx="868.5" cy="1760.4" r="6.9" fill="#000"/>
<circle cx="868.5" cy="1769.4" r="6.9" fill="#000"/>
<circle cx="868.5" cy="1804.3" r="6.9" fill="#000"/>
<circle cx="868.5" cy="1765" r="6.9" fill="#000"/>
<circle cx="868.5" cy="1602.6" r="6.9" fill="#f74447"/>
<circle cx="868.5" cy="1747.2" r="6.9" fill="#f74447"/>
<circle cx="868.5" cy="1774.9" r="6.9" fill="#f74447"/>
<circle cx="868.5" cy="1786.9" r="6.9" fill="#f74447"/>
<circle cx="868.5" cy="1797.7" r="6.9" fill="#f74447"/>
<circle cx="868.5" cy="1812.1" r="6.9" fill="#f74447"/>
<circle cx="868.5" cy="1819.3" r="6.9" fill="#f74447"/>
<circle cx="868.5" cy="1827.1" r="6.9" fill="#f74447"/>
<rect x="1028.4" y="1757.4" width="13.2" height="13.2" fill="#f74447"/>
<rect x="1028.4" y="1790.4" width="13.2" height="13.2" fill="#f74447"/>
<rect x="1028.4" y="1773.1" width="13.2" height="13.2" fill="#f74447"/>
<rect x="1028.4" y="1765.4" width="13.2" height="13.2" fill="#f74447"/>
<rect x="1028.4" y="1739.7" width="13.2" height="13.2" fill="#f74447"/>
<rect x="1028.4" y="1757.4" width="13.2" height="13.2" fill="#f74447"/>
<rect x="1028.4" y="1789.9" width="13.2" height="13.2" fill="#f74447"/>
<rect x="1028.4" y="1819.4" width="13.2" height="13.2" fill="#f74447"/>
<rect x="1028.4" y="1827.4" width="13.2" height="13.2" fill="#f74447"/>
<rect x="1028.4" y="1800.2" width="13.2" height="13.2" fill="#000"/>
<rect x="1028.4" y="1799.4" width="13.2" height="13.2" fill="#000"/>
<rect x="1028.4" y="1777.9" width="13.2" height="13.2" fill="#000"/>
<rect x="1028.4" y="1704.2" width="13.2" height="13.2" fill="#000"/>
<rect x="1028.4" y="1751.4" width="13.2" height="13.2" fill="#000"/>
<text transform="translate(679.6 1880.51) rotate(-90)" font-size="28" textLength="309.98" lengthAdjust="spacingAndGlyphs">Psoas major SUV (g ml<tspan font-size="19" dy="-12.4">−1</tspan><tspan font-size="28" dy="12.4">)</tspan></text>
<text x="1252.14" y="1513.15" font-size="38.5" textLength="14.78" lengthAdjust="spacingAndGlyphs" font-weight="bold" style="fill:#000" stroke="#000" stroke-width="1.7" stroke-linejoin="round">i</text>
<line x1="1379.2" y1="1893.5" x2="1778" y2="1893.5" stroke="#3c3c3c" stroke-width="1.5"/>
<line x1="1500.4" y1="1893.5" x2="1500.4" y2="1904.5" stroke="#3c3c3c" stroke-width="1.5"/>
<line x1="1667" y1="1893.5" x2="1667" y2="1904.5" stroke="#3c3c3c" stroke-width="1.5"/>
<text x="1448.35" y="1937.9" font-size="28" textLength="103.66" lengthAdjust="spacingAndGlyphs">Placebo</text>
<text x="1604.38" y="1937.9" font-size="28" textLength="124.31" lengthAdjust="spacingAndGlyphs">Sertraline</text>
<line x1="1390.2" y1="1553.7" x2="1390.2" y2="1894.2" stroke="#3c3c3c" stroke-width="1.7"/>
<line x1="1379.2" y1="1893.5" x2="1390.2" y2="1893.5" stroke="#3c3c3c" stroke-width="1.5"/>
<text x="1353.37" y="1901.5" font-size="24" textLength="16.06" lengthAdjust="spacingAndGlyphs">0</text>
<line x1="1379.2" y1="1808.72" x2="1390.2" y2="1808.72" stroke="#3c3c3c" stroke-width="1.5"/>
<text x="1334.21" y="1816.72" font-size="24" textLength="35.15" lengthAdjust="spacingAndGlyphs">0.5</text>
<line x1="1379.2" y1="1723.95" x2="1390.2" y2="1723.95" stroke="#3c3c3c" stroke-width="1.5"/>
<text x="1336.51" y="1731.95" font-size="24" textLength="32.71" lengthAdjust="spacingAndGlyphs">1.0</text>
<line x1="1379.2" y1="1639.17" x2="1390.2" y2="1639.17" stroke="#3c3c3c" stroke-width="1.5"/>
<text x="1338.94" y="1647.17" font-size="24" textLength="30.27" lengthAdjust="spacingAndGlyphs">1.5</text>
<line x1="1379.2" y1="1554.4" x2="1390.2" y2="1554.4" stroke="#3c3c3c" stroke-width="1.5"/>
<text x="1333.92" y="1562.4" font-size="24" textLength="35.37" lengthAdjust="spacingAndGlyphs">2.0</text>
<line x1="1500.4" y1="1626.7" x2="1667" y2="1721" stroke="#000" stroke-width="3"/>
<line x1="1500.4" y1="1636.3" x2="1667" y2="1766.7" stroke="#000" stroke-width="3"/>
<line x1="1500.4" y1="1668.7" x2="1667" y2="1685" stroke="#000" stroke-width="3"/>
<line x1="1500.4" y1="1677.7" x2="1667" y2="1664.5" stroke="#000" stroke-width="3"/>
<line x1="1500.4" y1="1690.4" x2="1667" y2="1746.3" stroke="#000" stroke-width="3"/>
<line x1="1500.4" y1="1703.6" x2="1667" y2="1727" stroke="#000" stroke-width="3"/>
<line x1="1500.4" y1="1712.6" x2="1667" y2="1605" stroke="#000" stroke-width="3"/>
<line x1="1500.4" y1="1737.2" x2="1667" y2="1769" stroke="#000" stroke-width="3"/>
<line x1="1500.4" y1="1747.8" x2="1667" y2="1767" stroke="#000" stroke-width="3"/>
<line x1="1500.4" y1="1747.8" x2="1667" y2="1784.5" stroke="#000" stroke-width="3"/>
<line x1="1500.4" y1="1767.6" x2="1667" y2="1747.2" stroke="#000" stroke-width="3"/>
<line x1="1500.4" y1="1767.6" x2="1667" y2="1784.5" stroke="#000" stroke-width="3"/>
<line x1="1500.4" y1="1793.5" x2="1667" y2="1784.5" stroke="#000" stroke-width="3"/>
<line x1="1500.4" y1="1798.9" x2="1667" y2="1816.9" stroke="#000" stroke-width="3"/>
<line x1="1500.4" y1="1815.1" x2="1667" y2="1797.7" stroke="#000" stroke-width="3"/>
<circle cx="1500.4" cy="1626.7" r="6.9" fill="#000"/>
<circle cx="1500.4" cy="1636.3" r="6.9" fill="#000"/>
<circle cx="1500.4" cy="1690.4" r="6.9" fill="#000"/>
<circle cx="1500.4" cy="1712.6" r="6.9" fill="#000"/>
<circle cx="1500.4" cy="1737.2" r="6.9" fill="#000"/>
<circle cx="1500.4" cy="1815.1" r="6.9" fill="#000"/>
<circle cx="1500.4" cy="1668.7" r="6.9" fill="#f74447"/>
<circle cx="1500.4" cy="1677.7" r="6.9" fill="#f74447"/>
<circle cx="1500.4" cy="1703.6" r="6.9" fill="#f74447"/>
<circle cx="1500.4" cy="1747.8" r="6.9" fill="#f74447"/>
<circle cx="1500.4" cy="1747.8" r="6.9" fill="#f74447"/>
<circle cx="1500.4" cy="1767.6" r="6.9" fill="#f74447"/>
<circle cx="1500.4" cy="1767.6" r="6.9" fill="#f74447"/>
<circle cx="1500.4" cy="1793.5" r="6.9" fill="#f74447"/>
<circle cx="1500.4" cy="1798.9" r="6.9" fill="#f74447"/>
<rect x="1660.4" y="1678.4" width="13.2" height="13.2" fill="#f74447"/>
<rect x="1660.4" y="1657.9" width="13.2" height="13.2" fill="#f74447"/>
<rect x="1660.4" y="1739.7" width="13.2" height="13.2" fill="#f74447"/>
<rect x="1660.4" y="1720.4" width="13.2" height="13.2" fill="#f74447"/>
<rect x="1660.4" y="1777.9" width="13.2" height="13.2" fill="#f74447"/>
<rect x="1660.4" y="1740.6" width="13.2" height="13.2" fill="#f74447"/>
<rect x="1660.4" y="1777.9" width="13.2" height="13.2" fill="#f74447"/>
<rect x="1660.4" y="1777.9" width="13.2" height="13.2" fill="#f74447"/>
<rect x="1660.4" y="1810.3" width="13.2" height="13.2" fill="#f74447"/>
<rect x="1660.4" y="1714.4" width="13.2" height="13.2" fill="#000"/>
<rect x="1660.4" y="1760.1" width="13.2" height="13.2" fill="#000"/>
<rect x="1660.4" y="1598.4" width="13.2" height="13.2" fill="#000"/>
<rect x="1660.4" y="1762.4" width="13.2" height="13.2" fill="#000"/>
<rect x="1660.4" y="1760.4" width="13.2" height="13.2" fill="#000"/>
<rect x="1660.4" y="1791.1" width="13.2" height="13.2" fill="#000"/>
<text transform="translate(1276.9 1857.94) rotate(-90)" font-size="28" textLength="267.34" lengthAdjust="spacingAndGlyphs">Sternocleidomastoid</text>
<text transform="translate(1307.7 1798.81) rotate(-90)" font-size="28" textLength="150.35" lengthAdjust="spacingAndGlyphs">SUV (g ml<tspan font-size="19" dy="-12.4">−1</tspan><tspan font-size="28" dy="12.4">)</tspan></text>
<text x="1.55" y="2012.45" font-size="38.5" textLength="12.45" lengthAdjust="spacingAndGlyphs" font-weight="bold" style="fill:#000" stroke="#000" stroke-width="1.7" stroke-linejoin="round">j</text>
<line x1="113.6" y1="2380.3" x2="514.3" y2="2380.3" stroke="#3c3c3c" stroke-width="1.5"/>
<line x1="235" y1="2380.3" x2="235" y2="2391.3" stroke="#3c3c3c" stroke-width="1.5"/>
<line x1="402" y1="2380.3" x2="402" y2="2391.3" stroke="#3c3c3c" stroke-width="1.5"/>
<text x="182.75" y="2424.7" font-size="28" textLength="103.66" lengthAdjust="spacingAndGlyphs">Placebo</text>
<text x="339.19" y="2424.7" font-size="28" textLength="123.9" lengthAdjust="spacingAndGlyphs">Sertraline</text>
<line x1="124.6" y1="2038.7" x2="124.6" y2="2381" stroke="#3c3c3c" stroke-width="1.7"/>
<line x1="113.6" y1="2380.3" x2="124.6" y2="2380.3" stroke="#3c3c3c" stroke-width="1.5"/>
<text x="87.77" y="2388.3" font-size="24" textLength="16.06" lengthAdjust="spacingAndGlyphs">0</text>
<line x1="113.6" y1="2312.12" x2="124.6" y2="2312.12" stroke="#3c3c3c" stroke-width="1.5"/>
<text x="93.87" y="2320.12" font-size="24" textLength="9.67" lengthAdjust="spacingAndGlyphs">1</text>
<line x1="113.6" y1="2243.94" x2="124.6" y2="2243.94" stroke="#3c3c3c" stroke-width="1.5"/>
<text x="89.93" y="2251.94" font-size="24" textLength="14.04" lengthAdjust="spacingAndGlyphs">2</text>
<line x1="113.6" y1="2175.76" x2="124.6" y2="2175.76" stroke="#3c3c3c" stroke-width="1.5"/>
<text x="89.2" y="2183.76" font-size="24" textLength="14.66" lengthAdjust="spacingAndGlyphs">3</text>
<line x1="113.6" y1="2107.58" x2="124.6" y2="2107.58" stroke="#3c3c3c" stroke-width="1.5"/>
<text x="89.11" y="2115.58" font-size="24" textLength="14.35" lengthAdjust="spacingAndGlyphs">4</text>
<line x1="113.6" y1="2039.4" x2="124.6" y2="2039.4" stroke="#3c3c3c" stroke-width="1.5"/>
<text x="89.14" y="2047.4" font-size="24" textLength="14.66" lengthAdjust="spacingAndGlyphs">5</text>
<line x1="235" y1="2282.2" x2="402" y2="2281" stroke="#000" stroke-width="3"/>
<line x1="235" y1="2300" x2="402" y2="2291" stroke="#000" stroke-width="3"/>
<line x1="235" y1="2317" x2="402" y2="2326" stroke="#000" stroke-width="3"/>
<line x1="235" y1="2295" x2="402" y2="2279" stroke="#000" stroke-width="3"/>
<line x1="235" y1="2268.4" x2="402" y2="2296" stroke="#000" stroke-width="3"/>
<line x1="235" y1="2278" x2="402" y2="2269" stroke="#000" stroke-width="3"/>
<line x1="235" y1="2288.2" x2="402" y2="2276" stroke="#000" stroke-width="3"/>
<line x1="235" y1="2296" x2="402" y2="2300" stroke="#000" stroke-width="3"/>
<line x1="235" y1="2303.3" x2="402" y2="2295" stroke="#000" stroke-width="3"/>
<line x1="235" y1="2314.1" x2="402" y2="2312" stroke="#000" stroke-width="3"/>
<line x1="235" y1="2318" x2="402" y2="2313" stroke="#000" stroke-width="3"/>
<line x1="235" y1="2324.9" x2="402" y2="2310" stroke="#000" stroke-width="3"/>
<line x1="235" y1="2089.9" x2="402" y2="2273" stroke="#000" stroke-width="3"/>
<circle cx="235" cy="2282.2" r="6.9" fill="#000"/>
<circle cx="235" cy="2300" r="6.9" fill="#f74447"/>
<circle cx="235" cy="2317" r="6.9" fill="#000"/>
<circle cx="235" cy="2295" r="6.9" fill="#f74447"/>
<circle cx="235" cy="2268.4" r="6.9" fill="#000"/>
<circle cx="235" cy="2278" r="6.9" fill="#f74447"/>
<circle cx="235" cy="2288.2" r="6.9" fill="#f74447"/>
<circle cx="235" cy="2296" r="6.9" fill="#000"/>
<circle cx="235" cy="2303.3" r="6.9" fill="#000"/>
<circle cx="235" cy="2314.1" r="6.9" fill="#000"/>
<circle cx="235" cy="2318" r="6.9" fill="#000"/>
<circle cx="235" cy="2324.9" r="6.9" fill="#f74447"/>
<circle cx="235" cy="2089.9" r="6.9" fill="#f74447"/>
<rect x="395.4" y="2284.4" width="13.2" height="13.2" fill="#000"/>
<rect x="395.4" y="2319.4" width="13.2" height="13.2" fill="#000"/>
<rect x="395.4" y="2289.4" width="13.2" height="13.2" fill="#000"/>
<rect x="395.4" y="2293.4" width="13.2" height="13.2" fill="#000"/>
<rect x="395.4" y="2288.4" width="13.2" height="13.2" fill="#000"/>
<rect x="395.4" y="2274.4" width="13.2" height="13.2" fill="#f74447"/>
<rect x="395.4" y="2272.4" width="13.2" height="13.2" fill="#f74447"/>
<rect x="395.4" y="2262.4" width="13.2" height="13.2" fill="#f74447"/>
<rect x="395.4" y="2269.4" width="13.2" height="13.2" fill="#f74447"/>
<rect x="395.4" y="2305.4" width="13.2" height="13.2" fill="#f74447"/>
<rect x="395.4" y="2306.4" width="13.2" height="13.2" fill="#f74447"/>
<rect x="395.4" y="2303.4" width="13.2" height="13.2" fill="#f74447"/>
<rect x="395.4" y="2266.4" width="13.2" height="13.2" fill="#f74447"/>
<text transform="translate(65.1 2367.6) rotate(-90)" font-size="28" textLength="314.33" lengthAdjust="spacingAndGlyphs">Longus colli SUV (g ml<tspan font-size="19" dy="-12.4">−1</tspan><tspan font-size="28" dy="12.4">)</tspan></text>
<text x="655.76" y="2012.65" font-size="38.5" textLength="22.26" lengthAdjust="spacingAndGlyphs" font-weight="bold" style="fill:#000" stroke="#000" stroke-width="1.7" stroke-linejoin="round">k</text>
<line x1="748.2" y1="2379.6" x2="1147.8" y2="2379.6" stroke="#3c3c3c" stroke-width="1.5"/>
<line x1="868.5" y1="2379.6" x2="868.5" y2="2390.6" stroke="#3c3c3c" stroke-width="1.5"/>
<line x1="1035.3" y1="2379.6" x2="1035.3" y2="2390.6" stroke="#3c3c3c" stroke-width="1.5"/>
<text x="817.25" y="2424" font-size="28" textLength="103.35" lengthAdjust="spacingAndGlyphs">Placebo</text>
<text x="972.68" y="2424" font-size="28" textLength="124.21" lengthAdjust="spacingAndGlyphs">Sertraline</text>
<line x1="759.2" y1="2038.7" x2="759.2" y2="2380.3" stroke="#3c3c3c" stroke-width="1.7"/>
<line x1="748.2" y1="2379.6" x2="759.2" y2="2379.6" stroke="#3c3c3c" stroke-width="1.5"/>
<text x="722.37" y="2387.6" font-size="24" textLength="16.06" lengthAdjust="spacingAndGlyphs">0</text>
<line x1="748.2" y1="2294.55" x2="759.2" y2="2294.55" stroke="#3c3c3c" stroke-width="1.5"/>
<text x="703.21" y="2302.55" font-size="24" textLength="35.15" lengthAdjust="spacingAndGlyphs">0.5</text>
<line x1="748.2" y1="2209.5" x2="759.2" y2="2209.5" stroke="#3c3c3c" stroke-width="1.5"/>
<text x="705.51" y="2217.5" font-size="24" textLength="32.71" lengthAdjust="spacingAndGlyphs">1.0</text>
<line x1="748.2" y1="2124.45" x2="759.2" y2="2124.45" stroke="#3c3c3c" stroke-width="1.5"/>
<text x="707.94" y="2132.45" font-size="24" textLength="30.27" lengthAdjust="spacingAndGlyphs">1.5</text>
<line x1="748.2" y1="2039.4" x2="759.2" y2="2039.4" stroke="#3c3c3c" stroke-width="1.5"/>
<text x="702.92" y="2047.4" font-size="24" textLength="35.37" lengthAdjust="spacingAndGlyphs">2.0</text>
<line x1="868.5" y1="2109.1" x2="1035.3" y2="2254" stroke="#000" stroke-width="3"/>
<line x1="868.5" y1="2203" x2="1035.3" y2="2259" stroke="#000" stroke-width="3"/>
<line x1="868.5" y1="2205" x2="1035.3" y2="2266.5" stroke="#000" stroke-width="3"/>
<line x1="868.5" y1="2225.7" x2="1035.3" y2="2279.8" stroke="#000" stroke-width="3"/>
<line x1="868.5" y1="2242.3" x2="1035.3" y2="2273.8" stroke="#000" stroke-width="3"/>
<line x1="868.5" y1="2259.9" x2="1035.3" y2="2303.8" stroke="#000" stroke-width="3"/>
<line x1="868.5" y1="2267.7" x2="1035.3" y2="2281" stroke="#000" stroke-width="3"/>
<line x1="868.5" y1="2285.8" x2="1035.3" y2="2213.7" stroke="#000" stroke-width="3"/>
<line x1="868.5" y1="2281.6" x2="1035.3" y2="2259.3" stroke="#000" stroke-width="3"/>
<line x1="868.5" y1="2291.8" x2="1035.3" y2="2314.6" stroke="#000" stroke-width="3"/>
<line x1="868.5" y1="2299.6" x2="1035.3" y2="2285.8" stroke="#000" stroke-width="3"/>
<line x1="868.5" y1="2319.4" x2="1035.3" y2="2305" stroke="#000" stroke-width="3"/>
<line x1="868.5" y1="2290" x2="1035.3" y2="2297" stroke="#000" stroke-width="3"/>
<circle cx="868.5" cy="2203" r="6.9" fill="#000"/>
<circle cx="868.5" cy="2205" r="6.9" fill="#000"/>
<circle cx="868.5" cy="2225.7" r="6.9" fill="#000"/>
<circle cx="868.5" cy="2285.8" r="6.9" fill="#000"/>
<circle cx="868.5" cy="2319.4" r="6.9" fill="#000"/>
<circle cx="868.5" cy="2109.1" r="6.9" fill="#f74447"/>
<circle cx="868.5" cy="2242.3" r="6.9" fill="#f74447"/>
<circle cx="868.5" cy="2259.9" r="6.9" fill="#f74447"/>
<circle cx="868.5" cy="2267.7" r="6.9" fill="#f74447"/>
<circle cx="868.5" cy="2281.6" r="6.9" fill="#f74447"/>
<circle cx="868.5" cy="2291.8" r="6.9" fill="#f74447"/>
<circle cx="868.5" cy="2299.6" r="6.9" fill="#f74447"/>
<circle cx="868.5" cy="2290" r="6.9" fill="#f74447"/>
<rect x="1028.7" y="2247.4" width="13.2" height="13.2" fill="#f74447"/>
<rect x="1028.7" y="2252.4" width="13.2" height="13.2" fill="#f74447"/>
<rect x="1028.7" y="2297.2" width="13.2" height="13.2" fill="#f74447"/>
<rect x="1028.7" y="2207.1" width="13.2" height="13.2" fill="#f74447"/>
<rect x="1028.7" y="2252.7" width="13.2" height="13.2" fill="#f74447"/>
<rect x="1028.7" y="2308" width="13.2" height="13.2" fill="#f74447"/>
<rect x="1028.7" y="2279.2" width="13.2" height="13.2" fill="#f74447"/>
<rect x="1028.7" y="2298.4" width="13.2" height="13.2" fill="#f74447"/>
<rect x="1028.7" y="2290.4" width="13.2" height="13.2" fill="#f74447"/>
<rect x="1028.7" y="2259.9" width="13.2" height="13.2" fill="#000"/>
<rect x="1028.7" y="2273.2" width="13.2" height="13.2" fill="#000"/>
<rect x="1028.7" y="2267.2" width="13.2" height="13.2" fill="#000"/>
<rect x="1028.7" y="2274.4" width="13.2" height="13.2" fill="#000"/>
<text transform="translate(680.1 2349.01) rotate(-90)" font-size="28" textLength="280.49" lengthAdjust="spacingAndGlyphs">Trapezius SUV (g ml<tspan font-size="19" dy="-12.4">−1</tspan><tspan font-size="28" dy="12.4">)</tspan></text>
<text x="1253.7" y="2012.15" font-size="38.5" textLength="11.34" lengthAdjust="spacingAndGlyphs" font-weight="bold" style="fill:#000" stroke="#000" stroke-width="1.7" stroke-linejoin="round">l</text>
<line x1="1379.2" y1="2379.6" x2="1778.8" y2="2379.6" stroke="#3c3c3c" stroke-width="1.5"/>
<line x1="1499.7" y1="2379.6" x2="1499.7" y2="2390.6" stroke="#3c3c3c" stroke-width="1.5"/>
<line x1="1666.8" y1="2379.6" x2="1666.8" y2="2390.6" stroke="#3c3c3c" stroke-width="1.5"/>
<text x="1448.35" y="2424" font-size="28" textLength="103.66" lengthAdjust="spacingAndGlyphs">Placebo</text>
<text x="1604.38" y="2424" font-size="28" textLength="124.31" lengthAdjust="spacingAndGlyphs">Sertraline</text>
<line x1="1390.2" y1="2038.7" x2="1390.2" y2="2380.3" stroke="#3c3c3c" stroke-width="1.7"/>
<line x1="1379.2" y1="2379.6" x2="1390.2" y2="2379.6" stroke="#3c3c3c" stroke-width="1.5"/>
<text x="1353.37" y="2387.6" font-size="24" textLength="16.06" lengthAdjust="spacingAndGlyphs">0</text>
<line x1="1379.2" y1="2266.2" x2="1390.2" y2="2266.2" stroke="#3c3c3c" stroke-width="1.5"/>
<text x="1334.82" y="2274.2" font-size="24" textLength="34.73" lengthAdjust="spacingAndGlyphs">0.2</text>
<line x1="1379.2" y1="2152.8" x2="1390.2" y2="2152.8" stroke="#3c3c3c" stroke-width="1.5"/>
<text x="1333.81" y="2160.8" font-size="24" textLength="35.23" lengthAdjust="spacingAndGlyphs">0.4</text>
<line x1="1379.2" y1="2039.4" x2="1390.2" y2="2039.4" stroke="#3c3c3c" stroke-width="1.5"/>
<text x="1334.11" y="2047.4" font-size="24" textLength="35.31" lengthAdjust="spacingAndGlyphs">0.6</text>
<line x1="1499.7" y1="2111.4" x2="1666.8" y2="2121.1" stroke="#000" stroke-width="3"/>
<line x1="1499.7" y1="2176.9" x2="1666.8" y2="2241.3" stroke="#000" stroke-width="3"/>
<line x1="1499.7" y1="2332.2" x2="1666.8" y2="2099.8" stroke="#000" stroke-width="3"/>
<line x1="1499.7" y1="2335.3" x2="1666.8" y2="2342" stroke="#000" stroke-width="3"/>
<line x1="1499.7" y1="2349.9" x2="1666.8" y2="2306" stroke="#000" stroke-width="3"/>
<line x1="1499.7" y1="2235.8" x2="1666.8" y2="2304" stroke="#000" stroke-width="3"/>
<line x1="1499.7" y1="2246.8" x2="1666.8" y2="2228" stroke="#000" stroke-width="3"/>
<line x1="1499.7" y1="2263.9" x2="1666.8" y2="2167.5" stroke="#000" stroke-width="3"/>
<line x1="1499.7" y1="2273" x2="1666.8" y2="2208.4" stroke="#000" stroke-width="3"/>
<line x1="1499.7" y1="2277.9" x2="1666.8" y2="2220.6" stroke="#000" stroke-width="3"/>
<line x1="1499.7" y1="2282.2" x2="1666.8" y2="2215" stroke="#000" stroke-width="3"/>
<line x1="1499.7" y1="2290.1" x2="1666.8" y2="2230.3" stroke="#000" stroke-width="3"/>
<line x1="1499.7" y1="2299.3" x2="1666.8" y2="2268.8" stroke="#000" stroke-width="3"/>
<line x1="1499.7" y1="2304.8" x2="1666.8" y2="2321.9" stroke="#000" stroke-width="3"/>
<line x1="1499.7" y1="2313.9" x2="1666.8" y2="2287.7" stroke="#000" stroke-width="3"/>
<circle cx="1499.7" cy="2111.4" r="6.9" fill="#000"/>
<circle cx="1499.7" cy="2335.3" r="6.9" fill="#000"/>
<circle cx="1499.7" cy="2263.9" r="6.9" fill="#000"/>
<circle cx="1499.7" cy="2273" r="6.9" fill="#000"/>
<circle cx="1499.7" cy="2282.2" r="6.9" fill="#000"/>
<circle cx="1499.7" cy="2290.1" r="6.9" fill="#000"/>
<circle cx="1499.7" cy="2176.9" r="6.9" fill="#f74447"/>
<circle cx="1499.7" cy="2332.2" r="6.9" fill="#f74447"/>
<circle cx="1499.7" cy="2349.9" r="6.9" fill="#f74447"/>
<circle cx="1499.7" cy="2235.8" r="6.9" fill="#f74447"/>
<circle cx="1499.7" cy="2246.8" r="6.9" fill="#f74447"/>
<circle cx="1499.7" cy="2277.9" r="6.9" fill="#f74447"/>
<circle cx="1499.7" cy="2299.3" r="6.9" fill="#f74447"/>
<circle cx="1499.7" cy="2304.8" r="6.9" fill="#f74447"/>
<circle cx="1499.7" cy="2313.9" r="6.9" fill="#f74447"/>
<rect x="1660.2" y="2234.7" width="13.2" height="13.2" fill="#f74447"/>
<rect x="1660.2" y="2093.2" width="13.2" height="13.2" fill="#f74447"/>
<rect x="1660.2" y="2299.4" width="13.2" height="13.2" fill="#f74447"/>
<rect x="1660.2" y="2297.4" width="13.2" height="13.2" fill="#f74447"/>
<rect x="1660.2" y="2221.4" width="13.2" height="13.2" fill="#f74447"/>
<rect x="1660.2" y="2223.7" width="13.2" height="13.2" fill="#f74447"/>
<rect x="1660.2" y="2262.2" width="13.2" height="13.2" fill="#f74447"/>
<rect x="1660.2" y="2315.3" width="13.2" height="13.2" fill="#f74447"/>
<rect x="1660.2" y="2281.1" width="13.2" height="13.2" fill="#f74447"/>
<rect x="1660.2" y="2114.5" width="13.2" height="13.2" fill="#000"/>
<rect x="1660.2" y="2335.4" width="13.2" height="13.2" fill="#000"/>
<rect x="1660.2" y="2160.9" width="13.2" height="13.2" fill="#000"/>
<rect x="1660.2" y="2201.8" width="13.2" height="13.2" fill="#000"/>
<rect x="1660.2" y="2214" width="13.2" height="13.2" fill="#000"/>
<rect x="1660.2" y="2208.4" width="13.2" height="13.2" fill="#000"/>
<text transform="translate(1277.4 2370.86) rotate(-90)" font-size="28" textLength="323.4" lengthAdjust="spacingAndGlyphs">Abdominal subcutaneous</text>
<text transform="translate(1308.2 2287.82) rotate(-90)" font-size="28" textLength="157.19" lengthAdjust="spacingAndGlyphs">WAT (g ml<tspan font-size="19" dy="-12.4">−1</tspan><tspan font-size="28" dy="12.4">)</tspan></text>
</svg>
</body></html>
